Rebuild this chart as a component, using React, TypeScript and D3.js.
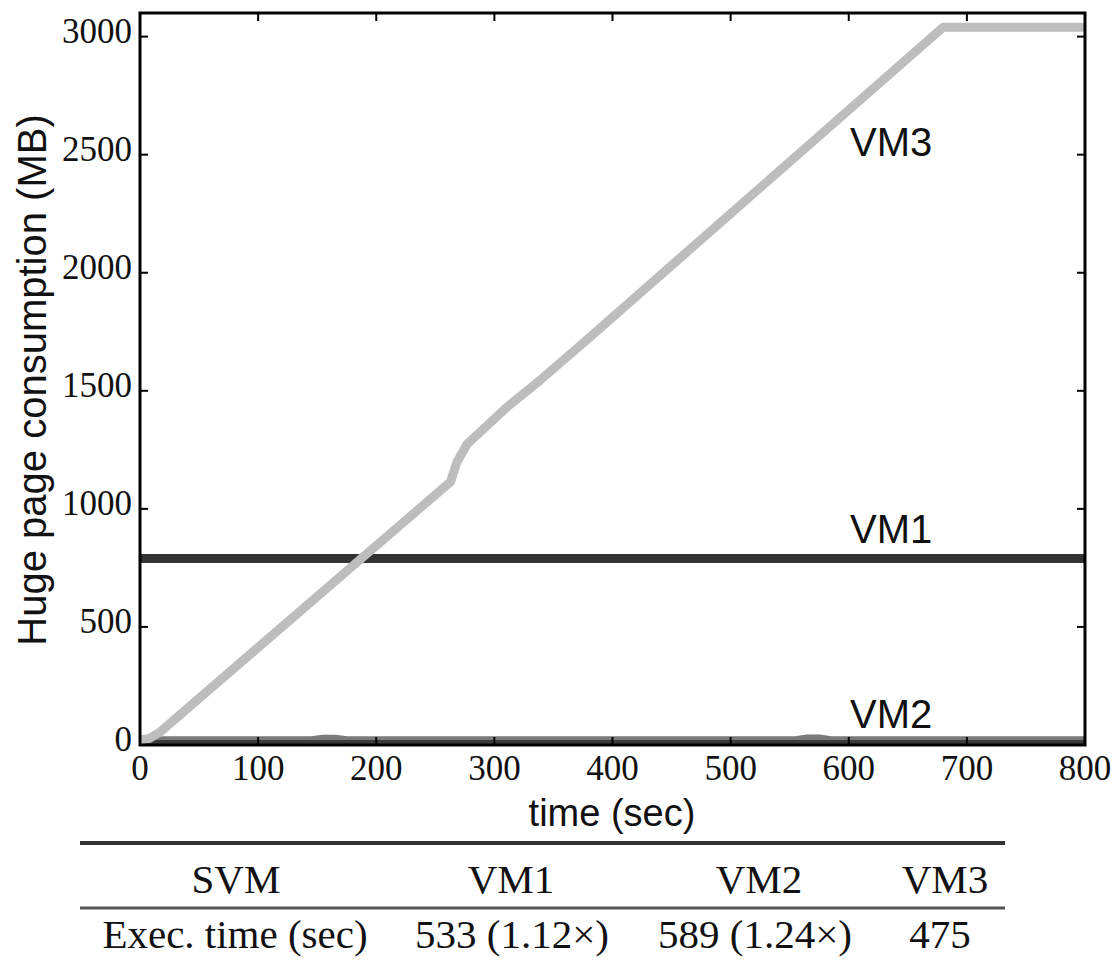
import React from "react";
import * as d3 from "d3";

// ---- data ----
const xTicks = [0, 100, 200, 300, 400, 500, 600, 700, 800];
const yTicks = [0, 500, 1000, 1500, 2000, 2500, 3000];

const vm1Time = [0, 800];
const vm1Mem = [790, 790];

const vm2Time = [0, 145, 155, 165, 175, 555, 565, 575, 585, 800];
const vm2Mem = [20, 20, 27, 27, 20, 20, 28, 28, 20, 20];

const vm3Time = [0, 8, 17, 186, 263, 268, 277, 311, 339, 378, 680, 800];
const vm3Mem = [22, 28, 55, 784, 1115, 1195, 1275, 1432, 1546, 1715, 3040, 3040];

const tableHeader = ["SVM", "VM1", "VM2", "VM3"];
const tableRow = ["Exec. time (sec)", "533 (1.12×)", "589 (1.24×)", "475"];

const W = 1114;
const H = 967;
const plot = { left: 140, right: 1085, top: 13, bottom: 745 };

export default function App() {
  const x = d3.scaleLinear().domain([0, 800]).range([plot.left, plot.right]);
  const y = d3.scaleLinear().domain([0, 3100]).range([plot.bottom, plot.top]);

  const line = d3
    .line<[number, number]>()
    .x((d) => x(d[0]))
    .y((d) => y(d[1]));

  const zip = (a: number[], b: number[]) => a.map((v, i) => [v, b[i]] as [number, number]);

  const serif = "'Liberation Serif', 'DejaVu Serif', serif";
  const sans = "'Liberation Sans', Arial, sans-serif";
  const tick = 8;

  const headerX = [236, 511, 759, 945];
  const rowX = [235, 512, 755, 940];

  return (
    <svg
      width={W}
      height={H}
      style={{ position: "absolute", left: 0, top: 0, background: "#fff" }}
    >
      <rect x={0} y={0} width={W} height={H} fill="#fff" />
      {/* lines */}
      <path d={line(zip(vm2Time, vm2Mem)) || ""} fill="none" stroke="#7a7a7a" strokeWidth={8} strokeLinejoin="round" />
      <line x1={plot.left} x2={plot.right} y1={plot.bottom - 3} y2={plot.bottom - 3} stroke="#3a3a3a" strokeWidth={4} />
      <path d={line(zip(vm1Time, vm1Mem)) || ""} fill="none" stroke="#333" strokeWidth={9} />
      <path d={line(zip(vm3Time, vm3Mem)) || ""} fill="none" stroke="#bdbdbd" strokeWidth={9} strokeLinejoin="round" />

      {/* frame */}
      <rect
        x={plot.left}
        y={plot.top}
        width={plot.right - plot.left}
        height={plot.bottom - plot.top}
        fill="none"
        stroke="#000"
        strokeWidth={3}
      />
      {/* ticks */}
      {xTicks.map((t) => (
        <g key={"x" + t}>
          <line x1={x(t)} x2={x(t)} y1={plot.bottom} y2={plot.bottom - tick} stroke="#000" strokeWidth={2} />
          <line x1={x(t)} x2={x(t)} y1={plot.top} y2={plot.top + tick} stroke="#000" strokeWidth={2} />
          <text x={x(t)} y={780} textAnchor="middle" fontFamily={serif} fontSize={35} fill="#111">
            {t}
          </text>
        </g>
      ))}
      {yTicks.map((t) => (
        <g key={"y" + t}>
          <line x1={plot.left} x2={plot.left + tick} y1={y(t)} y2={y(t)} stroke="#000" strokeWidth={2} />
          <line x1={plot.right} x2={plot.right - tick} y1={y(t)} y2={y(t)} stroke="#000" strokeWidth={2} />
          <text x={132} y={y(t) + 6} textAnchor="end" fontFamily={serif} fontSize={35} fill="#111">
            {t}
          </text>
        </g>
      ))}

      {/* axis labels */}
      <text x={612} y={826} textAnchor="middle" fontFamily={sans} fontSize={38} fill="#111">
        time (sec)
      </text>
      <text
        transform={`translate(46, 380) rotate(-90)`}
        textAnchor="middle"
        fontFamily={sans}
        fontSize={40}
        fill="#111"
      >
        Huge page consumption (MB)
      </text>

      {/* series labels */}
      <text x={850} y={156} fontFamily={sans} fontSize={40} fill="#111">VM3</text>
      <text x={850} y={543} fontFamily={sans} fontSize={40} fill="#111">VM1</text>
      <text x={850} y={728} fontFamily={sans} fontSize={40} fill="#111">VM2</text>

      {/* table */}
      <line x1={80} x2={1005} y1={843} y2={843} stroke="#333" strokeWidth={4} />
      <line x1={80} x2={1005} y1={908} y2={908} stroke="#555" strokeWidth={3} />
      {tableHeader.map((s, i) => (
        <text key={"h" + i} x={headerX[i]} y={893} textAnchor="middle" fontFamily={serif} fontSize={41} fill="#111">
          {s}
        </text>
      ))}
      {tableRow.map((s, i) => (
        <text key={"r" + i} x={rowX[i]} y={948} textAnchor="middle" fontFamily={serif} fontSize={41} fill="#111">
          {s}
        </text>
      ))}
    </svg>
  );
}
